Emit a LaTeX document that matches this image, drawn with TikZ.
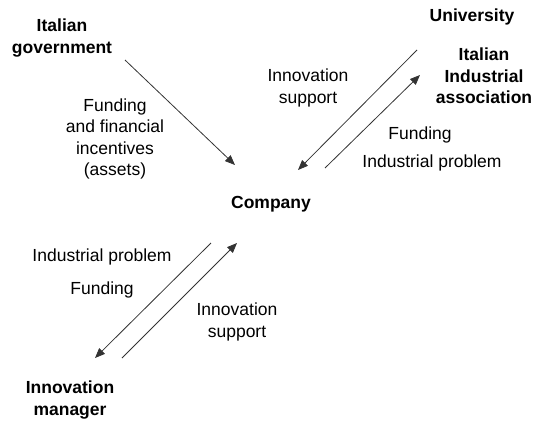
\documentclass[tikz,border=0pt]{standalone}
\usepackage{fontspec}
\setmainfont{Liberation Sans}
\usetikzlibrary{arrows.meta}
\begin{document}
\begin{tikzpicture}[x=1pt,y=-1pt,
  lbl/.style={font=\fontsize{17.5}{21.5}\selectfont, align=center, inner sep=0pt},
  actor/.style={lbl, font=\fontsize{17.5}{21.5}\selectfont\bfseries},
  flow/.style={draw=black!80, line width=0.8pt, -{Triangle[length=10pt,width=8pt]}}]
\useasboundingbox (0,0) rectangle (535,423);
\node[actor] (gov) at (62,38) {Italian\\government};
\node[actor] (uni) at (472,17) {University};
\node[actor] (iia) at (484,76) {Italian\\Industrial\\association};
\node[actor] (comp) at (271,204) {Company};
\node[actor] (im) at (70,400) {Innovation\\manager};
\node[lbl] (l1) at (115,139) {Funding\\and financial\\incentives\\(assets)};
\node[lbl] (l2) at (308,88) {Innovation\\support};
\node[lbl] (l3) at (420,135) {Funding};
\node[lbl] (l4) at (432,163) {Industrial problem};
\node[lbl] (l5) at (102,257) {Industrial problem};
\node[lbl] (l6) at (102,290) {Funding};
\node[lbl] (l7) at (237,322) {Innovation\\support};
\coordinate (a1s) at (125,60);  \coordinate (a1e) at (235,165);
\coordinate (a2s) at (417,50);  \coordinate (a2e) at (298,170);
\coordinate (a3s) at (325,168); \coordinate (a3e) at (420,75);
\coordinate (a4s) at (211,243); \coordinate (a4e) at (95,358);
\coordinate (a5s) at (122,358); \coordinate (a5e) at (237,243);
\draw[flow] (a1s) -- (a1e);
\draw[flow] (a2s) -- (a2e);
\draw[flow] (a3s) -- (a3e);
\draw[flow] (a4s) -- (a4e);
\draw[flow] (a5s) -- (a5e);
\end{tikzpicture}
\end{document}
